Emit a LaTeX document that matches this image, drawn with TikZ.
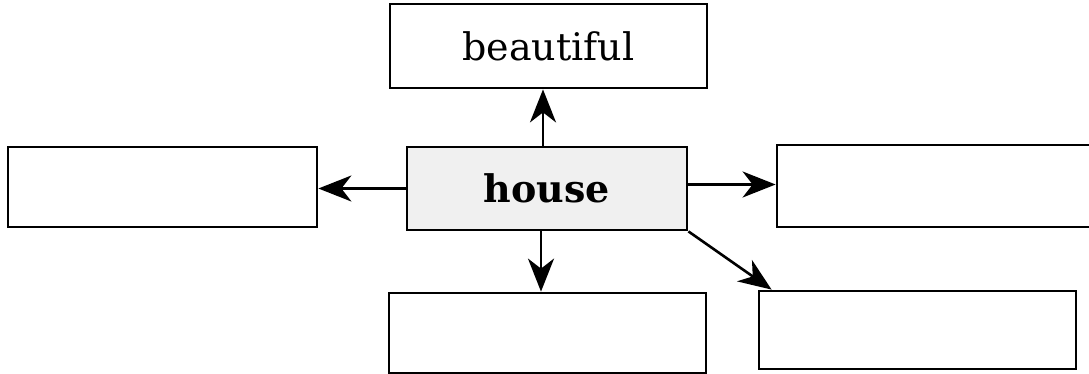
\documentclass[tikz,border=0pt]{standalone}
\usepackage{fontspec}
\setmainfont{DejaVu Serif}
\usetikzlibrary{arrows.meta}
\begin{document}
\begin{tikzpicture}[x=1pt,y=-1pt,
  box/.style={draw, line width=2.8pt, rectangle, inner sep=0pt},
  conn/.style={line width=2.6pt, -{Stealth[length=33pt,width=26pt,inset=10pt]}}]
\clip (0,0) rectangle (1089,374);
\fill[white] (0,0) rectangle (1089,374);
\node[box, minimum width=317pt, minimum height=84pt] (beautiful) at (548.5,46)
  {\fontsize{38}{46}\selectfont beautiful};
\node[box, fill=gray!12, minimum width=280pt, minimum height=83pt] (house) at (547,188.5)
  {\fontsize{38}{46}\selectfont\bfseries house};
\node[box, minimum width=309pt, minimum height=80pt] (left) at (162.5,187) {};
\node[box, minimum width=316pt, minimum height=82pt] (right) at (935,186) {};
\node[box, minimum width=317pt, minimum height=80pt] (bottom) at (547.5,333) {};
\node[box, minimum width=317pt, minimum height=78pt] (bright) at (917.5,330) {};
\coordinate (d) at ([xshift=14pt]bright.north west);
\draw[conn] ([xshift=-4pt]house.north) -- ([xshift=-4pt]house.north |- beautiful.south);
\draw[conn] (house.west) -- (house.west -| left.east);
\draw[conn] ([yshift=4pt]house.east) -- ([yshift=4pt]house.east -| right.west);
\draw[conn] ([xshift=-6pt]house.south) -- ([xshift=-6pt]house.south |- bottom.north);
\draw[conn] (house.south east) -- (d);
\end{tikzpicture}
\end{document}
